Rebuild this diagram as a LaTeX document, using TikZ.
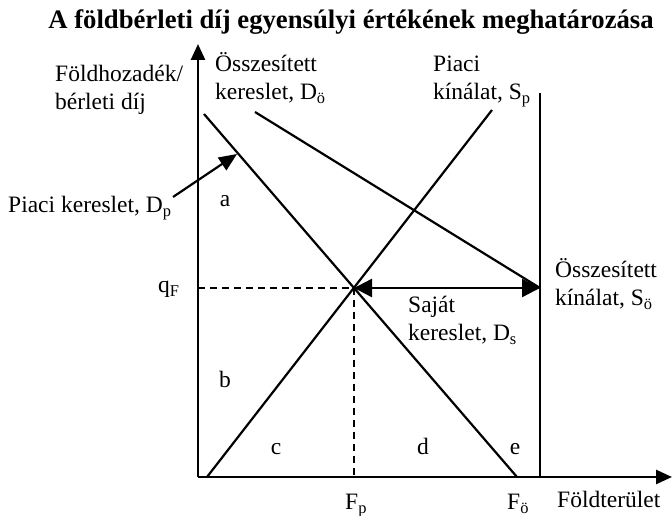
\documentclass[tikz,border=0pt]{standalone}
\usepackage{fontspec}
\setmainfont{Liberation Serif}
\usetikzlibrary{arrows.meta}

\begin{document}
\begin{tikzpicture}[x=1pt, y=1pt,
  txt/.style={inner sep=0pt, font=\fontsize{23.5}{28}\selectfont, align=left, anchor=base west},
  letter/.style={inner sep=0pt, font=\fontsize{23.5}{28}\selectfont, anchor=base},
  axisline/.style={line width=2.6pt, -{Triangle[length=16pt, width=14pt]}},
  curveline/.style={line width=2.2pt},
  guide/.style={line width=1.6pt, dash pattern=on 7pt off 5pt},
  dblarr/.style={line width=2.4pt, {Triangle[length=18pt, width=18pt]}-{Triangle[length=18pt, width=18pt]}},
  pointer/.style={line width=2.2pt, -{Triangle[length=18pt, width=15pt]}}
]
  \useasboundingbox (0,0) rectangle (672,516);

  % points of the graph
  \coordinate (O) at (198,39);
  \coordinate (ytop) at (198,472);
  \coordinate (xend) at (672,39);
  \coordinate (E) at (354,228);
  \coordinate (dpTop) at (204,402);
  \coordinate (dpEnd) at (517,39);
  \coordinate (spStart) at (207,39);
  \coordinate (spTop) at (492,406);
  \coordinate (soTop) at (540,423);
  \coordinate (soBot) at (540,39);
  \coordinate (soQ) at (540,228);
  \coordinate (doTop) at (255,404);
  \coordinate (qF) at (198,228);
  \coordinate (Fp) at (354,39);
  \coordinate (ptrStart) at (173,319);
  \coordinate (ptrEnd) at (237,362);

  % title
  \node[inner sep=0pt, anchor=base, font=\fontsize{26.7}{30}\selectfont\bfseries] (title) at (351,487)
    {A földbérleti díj egyensúlyi értékének meghatározása};

  % axes
  \draw[axisline] (O) -- (ytop);
  \draw[axisline] (O) -- (xend);

  % curves
  \draw[curveline] (dpTop) -- (dpEnd);
  \draw[curveline] (spStart) -- (spTop);
  \draw[curveline] (soTop) -- (soBot);
  \draw[curveline] (doTop) -- (soQ);
  \draw[guide] (qF) -- (E);
  \draw[guide] (E) -- (Fp);
  \draw[dblarr] (E) -- (soQ);
  \draw[pointer] (ptrStart) -- (ptrEnd);

  % labels (base = last line)
  \node[txt] (yLabel) at (55,406) {Földhozadék/\\bérleti díj};
  \node[txt] (doLabel) at (215,416) {Összesített\\kereslet, D\textsubscript{ö}};
  \node[txt] (spLabel) at (433,416) {Piaci\\kínálat, S\textsubscript{p}};
  \node[txt] (dpLabel) at (8,303) {Piaci kereslet, D\textsubscript{p}};
  \node[txt] (qLabel) at (158,223) {q\textsubscript{F}};
  \node[txt] (dsLabel) at (408,175) {Saját\\kereslet, D\textsubscript{s}};
  \node[txt] (soLabel) at (555,210) {Összesített\\kínálat, S\textsubscript{ö}};
  \node[txt] (fpLabel) at (345,6) {F\textsubscript{p}};
  \node[txt] (foLabel) at (507,6) {F\textsubscript{ö}};
  \node[txt] (xLabel) at (557,8) {Földterület};

  % areas
  \node[letter] (areaA) at (225,309) {a};
  \node[letter] (areaB) at (225,128) {b};
  \node[letter] (areaC) at (276,61) {c};
  \node[letter] (areaD) at (423,61) {d};
  \node[letter] (areaE) at (515,61) {e};
\end{tikzpicture}
\end{document}
